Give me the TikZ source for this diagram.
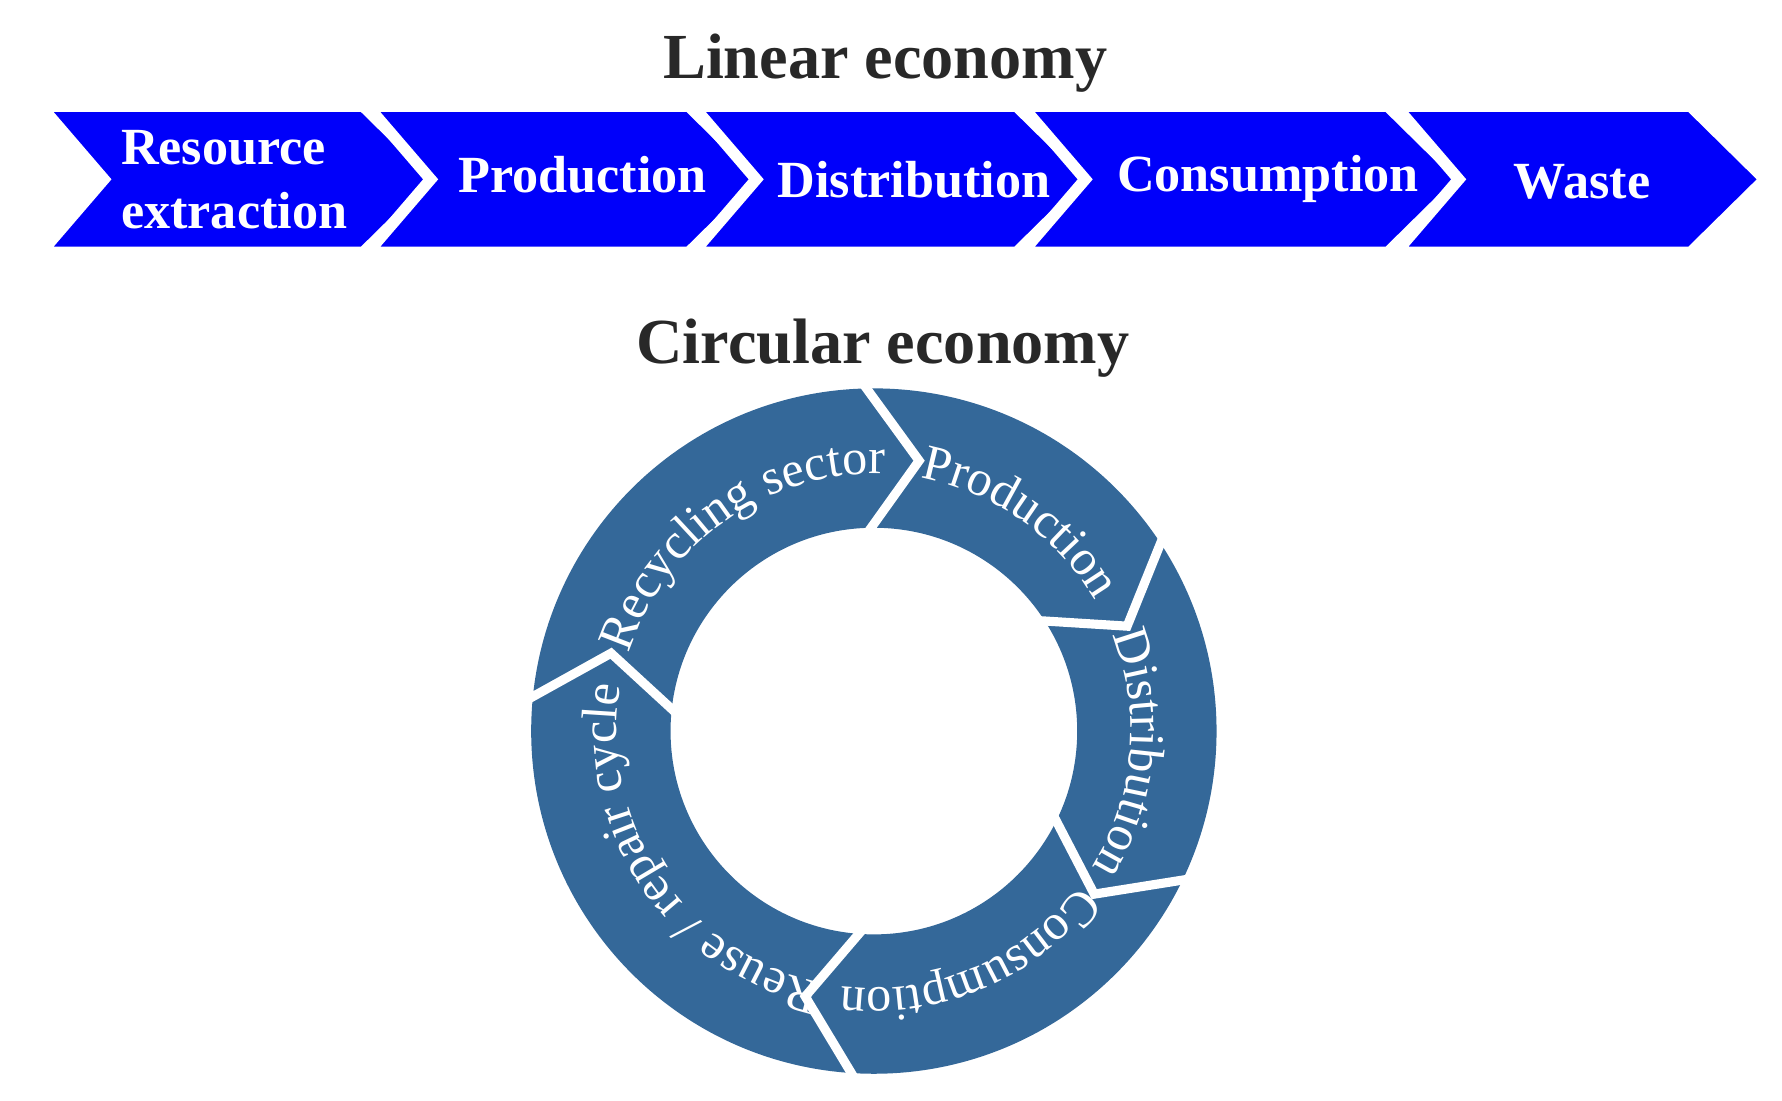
\documentclass[tikz,border=0pt]{standalone}
\usepackage{fontspec}
\setmainfont{Liberation Serif}
\usetikzlibrary{decorations.text}
\definecolor{chev}{RGB}{0,0,250}
\definecolor{ringc}{RGB}{52,104,153}
\definecolor{ttl}{RGB}{40,40,40}
\tikzset{
 chevron/.style={fill=chev,draw=white,line width=1mm,miter limit=10},
 chevtext/.style={text=white,font=\fontsize{13}{16}\selectfont\bfseries,align=left},
 title/.style={text=ttl,font=\fontsize{16}{18}\selectfont\bfseries},
 sep/.style={draw=white,line width=0.8mm,miter limit=10},
 ringtext/.style={decorate,decoration={text along path,text align=center,
   text format delimiters={[}{]}}}
}
\newcommand{\chev}[2]{% L, R
 \filldraw[chevron] (#1,870) -- (#2,870) -- ({#2+65},806) -- (#2,742) -- (#1,742) -- ({#1+55},806) -- cycle;}
\begin{document}
\begin{tikzpicture}[x=0.1mm,y=0.1mm]
\useasboundingbox (0,0) rectangle (1560,963);
\node[title] (lt) at (775,908) {Linear economy};
\node[title] (ct) at (773,658) {Circular economy};
\chev{36}{318}
\chev{322}{603}
\chev{607}{890}
\chev{895}{1215}
\chev{1222}{1480}
\node[chevtext] (t1) at (205,806) {Resource\\extraction};
\node[chevtext] (t2) at (510,810) {Production};
\node[chevtext] (t3) at (800,806) {Distribution};
\node[chevtext] (t4) at (1110,806) {Consumption};
\node[chevtext] (t5) at (1385,804) {Waste};
\coordinate (c) at (765,323);
\fill[ringc,even odd rule] (c) circle[radius=30mm] (c) circle[radius=17.8mm];
\foreach \a in {92,34,-25,-93,175}{
 \draw[sep] ([shift={(c)}]\a:30.6mm) -- ([shift={(c)}]\a-11.5:24mm) -- ([shift={(c)}]\a:17.3mm);
}
\foreach \m/\t in {125/{Recycling sector},55/{Production},-5/{Distribution},-67/{Consumption},-146/{Reuse / repair cycle}}{
 \path[ringtext,decoration={text={[\fontsize{12.5}{14}\selectfont\color{white}]\t}}]
  ([shift={(c)}]\m+50:22.5mm) arc[start angle=\m+50,end angle=\m-50,radius=22.5mm];
}
\end{tikzpicture}
\end{document}
